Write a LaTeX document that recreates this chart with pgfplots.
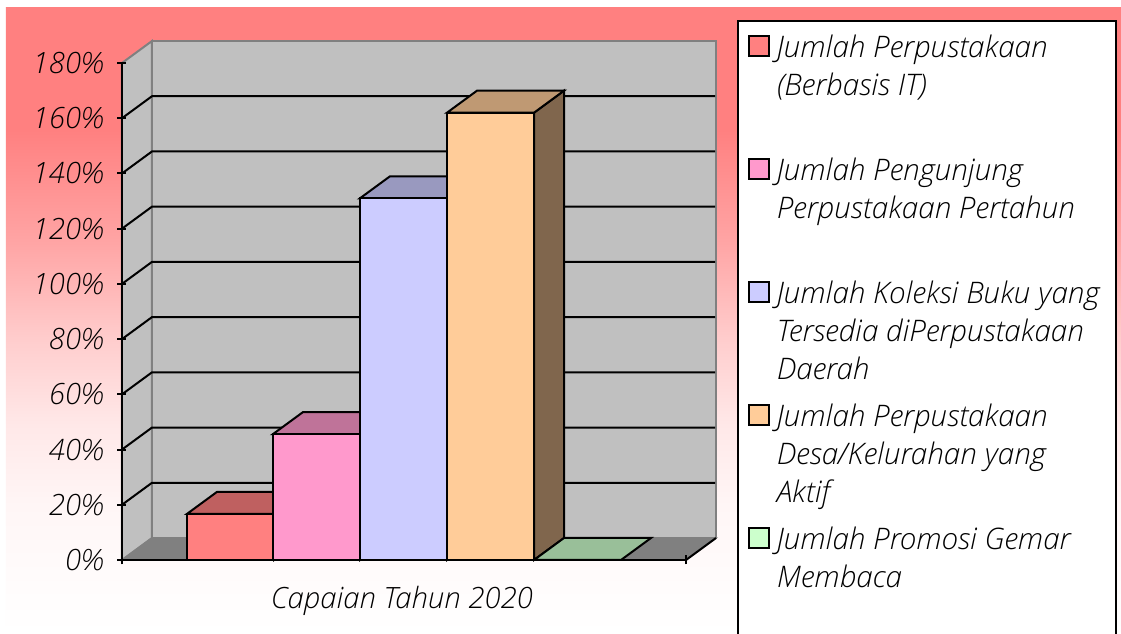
\documentclass[border=0pt]{standalone}
\usepackage{pgfplots}
\pgfplotsset{compat=1.18}
\usepackage{fontspec}
\setmainfont{Open Sans}[ItalicFont={Open Sans Light Italic}]
\definecolor{cA}{HTML}{FF8080}\definecolor{cAt}{HTML}{BF6060}\definecolor{cAs}{HTML}{804040}
\definecolor{cB}{HTML}{FF99CC}\definecolor{cBt}{HTML}{BF7399}\definecolor{cBs}{HTML}{804D66}
\definecolor{cC}{HTML}{CCCCFF}\definecolor{cCt}{HTML}{9999BF}\definecolor{cCs}{HTML}{666680}
\definecolor{cD}{HTML}{FFCC99}\definecolor{cDt}{HTML}{BF9973}\definecolor{cDs}{HTML}{80664D}
\definecolor{cE}{HTML}{CCFFCC}\definecolor{cEt}{HTML}{99BF99}
\definecolor{wall}{HTML}{C0C0C0}\definecolor{flr}{HTML}{808080}
\pgfdeclareverticalshading{bgshade}{100bp}{rgb(0bp)=(1,1,1);rgb(25bp)=(1,1,1);rgb(27.72bp)=(1,0.992,0.992);rgb(35.22bp)=(1,0.965,0.965);rgb(41.69bp)=(1,0.91,0.91);rgb(48.16bp)=(1,0.81,0.81);rgb(56.23bp)=(1,0.647,0.647);rgb(65.26bp)=(1,0.502,0.502);rgb(100bp)=(1,0.502,0.502)}
\newcommand{\lent}[1]{\parbox[t]{244.5pt}{\fontsize{22.25}{28.5}\selectfont\itshape #1}}
\begin{document}
\begin{tikzpicture}
\path[use as bounding box,fill=white] (-91.5pt,-55.5pt) rectangle (749.25pt,420pt);
\begin{scope}[x=0.75pt,y=0.75pt]
\shade[shading=bgshade] (-116,-74) rectangle (999,552);
\end{scope}
\begin{axis}[
  scale only axis, width=423pt, height=372.75pt,
  xmin=0, xmax=564, ymin=0, ymax=180,
  clip=false, axis on top,
  axis lines=left, axis line style={-,line width=1.5pt,black},
  xtick={0,564}, xticklabels={,},
  ytick={0,20,...,180},
  yticklabels={0\%,20\%,40\%,60\%,80\%,100\%,120\%,140\%,160\%,180\%},
  tick style={line width=1.5pt,black},
  major tick length=6.75pt,
  every tick label/.append style={font=\fontsize{22}{24}\selectfont\itshape},
  yticklabel style={xshift=-7pt},
  xlabel={Capaian Tahun 2020},
  xlabel style={at={(axis cs:280,-17.4)},anchor=base,font=\fontsize{22}{24}\selectfont\itshape},
  legend style={at={(axis cs:614.5,195.65)},anchor=north west,draw=black,line width=1.5pt,fill=white,
    inner xsep=7.5pt,inner ysep=8.5pt,column sep=3.5pt,row sep={92.25pt,between origins},
    cells={anchor=base west,inner sep=0pt}},
  legend image code/.code={\draw[#1,line width=1.5pt] (0pt,0.8pt) rectangle (15pt,15.8pt);},
]
% walls and floor
\addplot[forget plot,fill=wall,draw=flr,line width=1.5pt] coordinates {(0,0)(0,180)(30,187.97)(30,7.97)} --cycle;
\addplot[forget plot,fill=wall,draw=flr,line width=1.5pt] coordinates {(30,7.97)(594,7.97)(594,187.97)(30,187.97)} --cycle;
\addplot[forget plot,fill=flr,draw=flr,line width=1pt] coordinates {(0,0)(564,0)(594,7.97)(30,7.97)} --cycle;
\addplot[forget plot,draw=black,line width=1.5pt] coordinates {(564,0)(594,7.97)};
% grid lines
\addplot[forget plot,draw=black,line width=1.5pt] coordinates {(0,20)(30,27.97)(593,27.97)};
\addplot[forget plot,draw=black,line width=1.5pt] coordinates {(0,40)(30,47.97)(593,47.97)};
\addplot[forget plot,draw=black,line width=1.5pt] coordinates {(0,60)(30,67.97)(593,67.97)};
\addplot[forget plot,draw=black,line width=1.5pt] coordinates {(0,80)(30,87.97)(593,87.97)};
\addplot[forget plot,draw=black,line width=1.5pt] coordinates {(0,100)(30,107.97)(593,107.97)};
\addplot[forget plot,draw=black,line width=1.5pt] coordinates {(0,120)(30,127.97)(593,127.97)};
\addplot[forget plot,draw=black,line width=1.5pt] coordinates {(0,140)(30,147.97)(593,147.97)};
\addplot[forget plot,draw=black,line width=1.5pt] coordinates {(0,160)(30,167.97)(593,167.97)};
% bar 1: 16.7
\addplot[forget plot,fill=cAs,draw=black,line width=1.5pt] coordinates {(152,0)(152,16.7)(182,24.67)(182,7.97)} --cycle;
\addplot[forget plot,fill=cAt,draw=black,line width=1.5pt] coordinates {(65,16.7)(152,16.7)(182,24.67)(95,24.67)} --cycle;
\addplot[fill=cA,draw=black,line width=1.5pt] coordinates {(65,0)(65,16.7)(152,16.7)(152,0)} --cycle;
\addlegendentry{\lent{Jumlah Perpustakaan\\(Berbasis IT)}}
% bar 2: 45.6
\addplot[forget plot,fill=cBs,draw=black,line width=1.5pt] coordinates {(238,0)(238,45.6)(268,53.57)(268,7.97)} --cycle;
\addplot[forget plot,fill=cBt,draw=black,line width=1.5pt] coordinates {(151,45.6)(238,45.6)(268,53.57)(181,53.57)} --cycle;
\addplot[fill=cB,draw=black,line width=1.5pt] coordinates {(151,0)(151,45.6)(238,45.6)(238,0)} --cycle;
\addlegendentry{\lent{Jumlah Pengunjung\\Perpustakaan Pertahun}}
% bar 3: 131
\addplot[forget plot,fill=cCs,draw=black,line width=1.5pt] coordinates {(325,0)(325,131)(355,138.97)(355,7.97)} --cycle;
\addplot[forget plot,fill=cCt,draw=black,line width=1.5pt] coordinates {(238,131)(325,131)(355,138.97)(268,138.97)} --cycle;
\addplot[fill=cC,draw=black,line width=1.5pt] coordinates {(238,0)(238,131)(325,131)(325,0)} --cycle;
\addlegendentry{\lent{Jumlah Koleksi Buku yang\\Tersedia diPerpustakaan\\Daerah}}
% bar 4: 162
\addplot[forget plot,fill=cDs,draw=black,line width=1.5pt] coordinates {(412,0)(412,162)(442,169.97)(442,7.97)} --cycle;
\addplot[forget plot,fill=cDt,draw=black,line width=1.5pt] coordinates {(325,162)(412,162)(442,169.97)(355,169.97)} --cycle;
\addplot[fill=cD,draw=black,line width=1.5pt] coordinates {(325,0)(325,162)(412,162)(412,0)} --cycle;
\addlegendentry{\lent{Jumlah Perpustakaan\\Desa/Kelurahan yang\\Aktif}}
% bar 5: 0
\addplot[forget plot,fill=cEt,draw=black,line width=1.5pt] coordinates {(412,0)(499,0)(529,7.97)(442,7.97)} --cycle;
\addplot[fill=cE,draw=black,line width=1.5pt] coordinates {(412,0)(412,0)(499,0)(499,0)} --cycle;
\addlegendentry{\lent{Jumlah Promosi Gemar\\Membaca}}
\addlegendimage{empty legend}
\addlegendentry{}
\end{axis}
\end{tikzpicture}
\end{document}
